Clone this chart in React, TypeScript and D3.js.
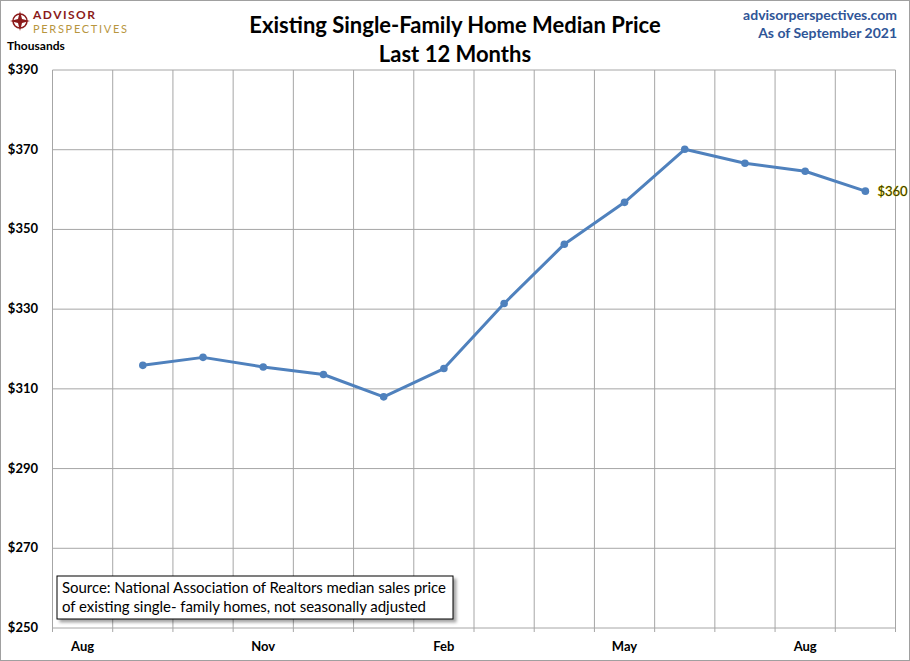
import * as d3 from 'd3';

// months on the category axis (first one has no value)
const months = ['Aug', 'Sep', 'Oct', 'Nov', 'Dec', 'Jan', 'Feb', 'Mar', 'Apr', 'May', 'Jun', 'Jul', 'Aug2', 'Sep2'];
const tickMonths = ['Aug', 'Nov', 'Feb', 'May', 'Aug2'];
const priceMonths = ['Sep', 'Oct', 'Nov', 'Dec', 'Jan', 'Feb', 'Mar', 'Apr', 'May', 'Jun', 'Jul', 'Aug2', 'Sep2'];
const prices = [315.9, 317.9, 315.5, 313.6, 308.0, 315.1, 331.4, 346.3, 356.8, 370.1, 366.6, 364.6, 359.6];
const yTicks = [250, 270, 290, 310, 330, 350, 370, 390];

const W = 910;
const H = 661;
const margin = { top: 70, right: 14.5, bottom: 33, left: 52.5 };
const font = 'Lato, "Noto Sans", sans-serif';

export default function App() {
  const x = d3.scaleBand().domain(months).range([margin.left, W - margin.right]);
  const y = d3.scaleLinear().domain([250, 390]).range([H - margin.bottom, margin.top]);
  const cx = (m: string) => (x(m) || 0) + x.bandwidth() / 2;

  const line = d3.line<number>()
    .x((_, i) => cx(priceMonths[i]))
    .y(d => y(d));

  const bottom = y(250);
  const last = prices[prices.length - 1];

  return (
    <svg width={W} height={H} style={{ position: 'absolute', left: 0, top: 0, background: '#fff' }}
      fontFamily={font}>
      <defs>
        <filter id="shadow" x="-5%" y="-20%" width="115%" height="150%">
          <feDropShadow dx="3" dy="3" stdDeviation="1.5" floodColor="#000" floodOpacity="0.35" />
        </filter>
      </defs>
      <rect x={0.5} y={0.5} width={W - 1} height={H - 1} fill="#fff" stroke="#a0a0a0" />

      {/* horizontal grid */}
      {yTicks.map(t => (
        <line key={'h' + t} x1={margin.left} x2={W - margin.right} y1={y(t)} y2={y(t)} stroke="#a6a6a6" strokeWidth={1} />
      ))}
      {/* vertical grid at category boundaries */}
      {months.map(m => (
        <line key={'v' + m} x1={x(m)} x2={x(m)} y1={margin.top} y2={bottom + 4} stroke="#a6a6a6" strokeWidth={1} />
      ))}
      <line x1={W - margin.right} x2={W - margin.right} y1={margin.top} y2={bottom + 4} stroke="#a6a6a6" />

      {/* y labels */}
      {yTicks.map(t => (
        <text key={'yl' + t} x={38} y={y(t) + 4} textAnchor="end" fontSize={13} fontWeight="bold" fill="#000">
          ${t}
        </text>
      ))}
      {/* x labels */}
      {tickMonths.map(m => (
        <text key={'xl' + m} x={cx(m)} y={651} textAnchor="middle" fontSize={13} fontWeight="bold" fill="#000">
          {m.replace('2', '')}
        </text>
      ))}

      {/* series */}
      <path d={line(prices) || ''} fill="none" stroke="#4f81bd" strokeWidth={3} strokeLinejoin="round" />
      {prices.map((p, i) => (
        <circle key={'c' + i} cx={cx(priceMonths[i])} cy={y(p)} r={3.8} fill="#4f81bd" />
      ))}
      <text x={cx('Sep2') + 12} y={y(last) + 5} fontSize={13} fill="#3a3a00" stroke="#e8d800" strokeWidth={0.6}
        paintOrder="stroke">
        ${Math.round(last)}
      </text>

      {/* source box */}
      <rect x={57} y={576} width={396} height={43} fill="#fff" stroke="#000" strokeWidth={1} filter="url(#shadow)" />
      <text x={62} y={593} fontSize={15} fill="#000" textLength={384}>Source: National Association of Realtors median sales price</text>
      <text x={62} y={612} fontSize={15} fill="#000" textLength={364}>of existing single- family homes, not seasonally adjusted</text>

      {/* titles */}
      <text x={455} y={33} textAnchor="middle" fontSize={22} fontWeight="bold" fill="#000">
        Existing Single-Family Home Median Price
      </text>
      <text x={455} y={62} textAnchor="middle" fontSize={22} fontWeight="bold" fill="#000">
        Last 12 Months
      </text>
      <text x={897} y={20} textAnchor="end" fontSize={14} fontWeight="bold" fill="#2f5597">advisorperspectives.com</text>
      <text x={897} y={38} textAnchor="end" fontSize={14} fontWeight="bold" fill="#2f5597">As of September 2021</text>
      <text x={7} y={50} fontSize={12} fontWeight="bold" fill="#000">Thousands</text>

      {/* logo */}
      <g transform="translate(20,21)">
        <circle r={7} fill="none" stroke="#8b1a1a" strokeWidth={1.5} />
        <path d="M0,-10 L2,-2 L10,0 L2,2 L0,10 L-2,2 L-10,0 L-2,-2 Z" fill="#8b1a1a" />
      </g>
      <text x={33} y={19} fontSize={12} fontWeight="bold" fill="#8b1a1a" textLength={62}>ADVISOR</text>
      <text x={33} y={33} fontSize={11} fill="#b8963e" textLength={94}>PERSPECTIVES</text>
    </svg>
  );
}
